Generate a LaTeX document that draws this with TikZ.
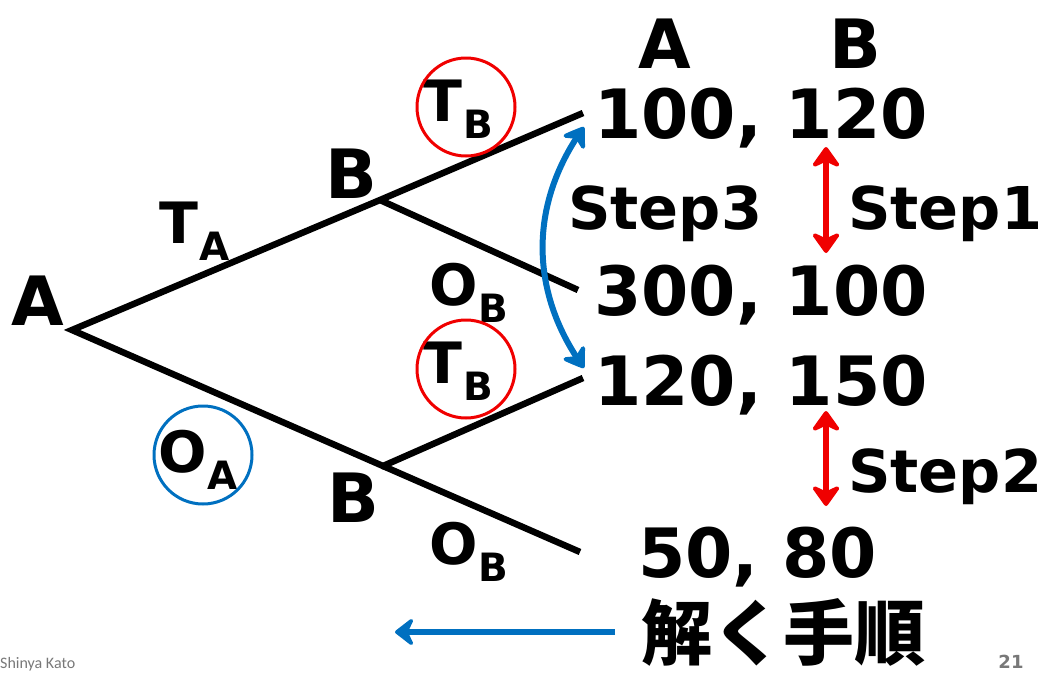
\documentclass[tikz,border=0pt]{standalone}
\usepackage{fontspec}
\setmainfont{DejaVu Sans}
\newfontfamily\cjkfont{Noto Sans CJK JP}
\newfontfamily\footfont{Carlito}
\usetikzlibrary{arrows.meta,bending}
\definecolor{pptred}{RGB}{240,0,0}
\definecolor{pptblue}{RGB}{0,112,192}
\definecolor{footgray}{RGB}{120,120,120}
\newcommand{\fs}[1]{\fontsize{#1}{#1}\selectfont}
\newcommand{\lbl}[2]{#1\kern1pt\raisebox{-0.3em}{\fs{39}#2}}
\tikzset{
  branch/.style={line width=6.5pt, line cap=butt},
  bigtxt/.style={inner sep=0pt, font=\bfseries\fs{68}},
  subtxt/.style={inner sep=0pt, font=\bfseries\fs{57}},
  steptxt/.style={inner sep=0pt, font=\bfseries\fs{59}},
  ring/.style={draw, line width=3pt, circle, minimum size=98pt, inner sep=0pt},
  redarrow/.style={pptred, line width=6pt, {Stealth[round,length=24pt,width=34pt,inset=8pt]}-{Stealth[round,length=24pt,width=34pt,inset=8pt]}},
  bluearrow/.style={pptblue, line width=6pt},
}
\begin{document}
\begin{tikzpicture}[x=1pt,y=-1pt]
\useasboundingbox (0,0) rectangle (1049,675);
% tree coordinates
\coordinate (root) at (72,330);
\coordinate (b1) at (380,200);
\coordinate (b2) at (383,466);
\coordinate (l1) at (583,113);
\coordinate (l2) at (578,290);
\coordinate (l3) at (583,378);
\coordinate (l4) at (580,552);
\draw[branch] (l1) -- (b1) -- (root) -- (b2) -- (l3);
\draw[branch] (b1) -- (l2);
\draw[branch] (b2) -- (l4);
% player labels
\node[bigtxt, anchor=base] (pA) at (38,325) {A};
\node[bigtxt, anchor=base] (pB1) at (351,198) {B};
\node[bigtxt, anchor=base] (pB2) at (353,522) {B};
% action labels
\node[subtxt, anchor=base west] (ta) at (159,243) {\lbl{T}{A}};
\node[subtxt, anchor=base west] (ob1) at (429,305) {\lbl{O}{B}};
\node[subtxt, anchor=base west] (ob2) at (429,564) {\lbl{O}{B}};
\node[subtxt, anchor=base west] (tb1) at (423,121) {\lbl{T}{B}};
\node[subtxt, anchor=base west] (tb2) at (423,383) {\lbl{T}{B}};
\node[subtxt, anchor=base west] (oa) at (158,472) {\lbl{O}{A}};
% circles
\node[ring, pptred] (c1) at (466,107) {};
\node[ring, pptred] (c2) at (466,369) {};
\node[ring, pptblue] (c3) at (203,455) {};
% payoffs
\node[bigtxt, anchor=base] (hA) at (665,68) {A};
\node[bigtxt, anchor=base] (hB) at (855,68) {B};
\node[bigtxt, anchor=base west] (p1) at (594,138) {100, 120};
\node[bigtxt, anchor=base west] (p2) at (594,315) {300, 100};
\node[bigtxt, anchor=base west] (p3) at (594,405) {120, 150};
\node[bigtxt, anchor=base west] (p4) at (638,577) {50, 80};
% steps
\node[steptxt, anchor=base west] (s3) at (568,229) {Step3};
\node[steptxt, anchor=base west] (s1) at (848,229) {Step1};
\node[steptxt, anchor=base west] (s2) at (848,492) {Step2};
% arrows
\coordinate (r1a) at (826,147);
\coordinate (r1b) at (826,253);
\coordinate (r2a) at (826,411);
\coordinate (r2b) at (826,506);
\draw[redarrow] (r1a) -- (r1b);
\draw[redarrow] (r2a) -- (r2b);
\coordinate (u1) at (584,127);
\coordinate (u2) at (584,368);
\draw[bluearrow, {Stealth[round,bend,length=24pt,width=32pt,inset=8pt]}-{Stealth[round,bend,length=24pt,width=32pt,inset=8pt]}] (u1) to[bend right=36] (u2);
% solve order
\node[inner sep=0pt, font=\cjkfont\bfseries\fs{71}] (jp) at (783,632) {解く手順};
\coordinate (arrStart) at (615,632);
\coordinate (arrEnd) at (395,632);
\draw[bluearrow, -{Stealth[round,length=22pt,width=34pt,inset=8pt]}] (arrStart) -- (arrEnd);
% footer
\node[inner sep=0pt, anchor=base west, text=footgray, font=\footfont\fs{16}] (author) at (0,668) {Shinya Kato};
\node[inner sep=0pt, anchor=base, text=footgray, font=\bfseries\fs{18}] (page) at (1011,668) {21};
\end{tikzpicture}
\end{document}
